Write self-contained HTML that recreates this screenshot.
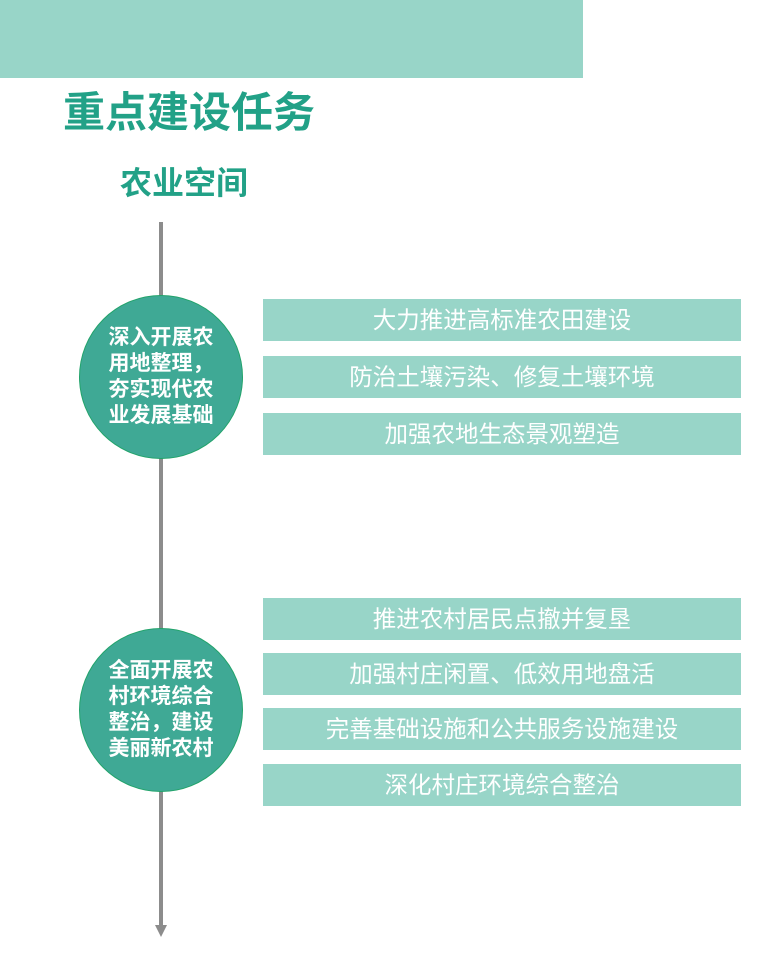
<!DOCTYPE html>
<html><head><meta charset="utf-8"><style>
body{margin:0;width:776px;height:960px;background:#fff;position:relative;overflow:hidden;font-family:"Liberation Sans","Noto Sans CJK SC",sans-serif}
.band{position:absolute;left:0;top:0;width:583px;height:78px;background:#98d5c8}
.t1{position:absolute;left:63px;top:84px;font-size:42px;font-weight:bold;color:#22a187;line-height:58px}
.t2{position:absolute;left:120px;top:160px;font-size:32px;font-weight:bold;color:#22a187;line-height:46px}
.line{position:absolute;left:159px;top:222px;width:4px;height:705px;background:#8c8c8c}
.arrow{position:absolute;left:155px;top:925px;width:0;height:0;border-left:6px solid transparent;border-right:6px solid transparent;border-top:12px solid #8c8c8c}
.c{position:absolute;width:164px;height:164px;border-radius:50%;background:#3fa995;border:1px solid #22a36b;color:#fff;font-weight:bold;font-size:21px;line-height:26px;text-align:center;display:flex;align-items:center;justify-content:center;box-sizing:border-box;padding:0 24px}
.b{position:absolute;left:263px;width:478px;height:42px;background:#98d5c8;color:#fff;font-size:23.5px;line-height:42px;text-align:center}
</style></head><body>
<div class="band"></div>
<div class="t1">重点建设任务</div>
<div class="t2">农业空间</div>
<div class="line"></div>
<div class="arrow"></div>
<div class="c" style="left:79px;top:295px">深入开展农用地整理，夯实现代农业发展基础</div>
<div class="c" style="left:79px;top:628px">全面开展农村环境综合整治，建设美丽新农村</div>
<div class="b" style="top:299px">大力推进高标准农田建设</div>
<div class="b" style="top:356px">防治土壤污染、修复土壤环境</div>
<div class="b" style="top:413px">加强农地生态景观塑造</div>
<div class="b" style="top:598px">推进农村居民点撤并复垦</div>
<div class="b" style="top:653px">加强村庄闲置、低效用地盘活</div>
<div class="b" style="top:708px">完善基础设施和公共服务设施建设</div>
<div class="b" style="top:764px">深化村庄环境综合整治</div>
</body></html>
